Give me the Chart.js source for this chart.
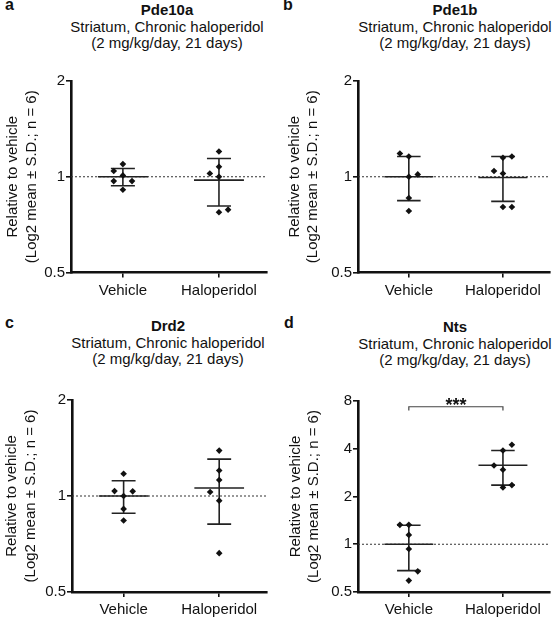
<!DOCTYPE html>
<html>
<head>
<meta charset="utf-8">
<script src="https://cdn.jsdelivr.net/npm/chart.js@4.4.1/dist/chart.umd.min.js"></script>
<style>
  body { margin: 0; background: #fff; font-family: "Liberation Sans", Arial, sans-serif; color: #111; }
  #page { position: relative; width: 554px; height: 619px; overflow: hidden; }
  .panel { position: absolute; }
  .panel canvas { position: absolute; left: 0; top: 0; }
  .letter { position: absolute; font-weight: bold; font-size: 16px; line-height: 16px; }
  .title { position: absolute; width: 260px; text-align: center; font-size: 15px; line-height: 16.5px; white-space: nowrap; }
  .title b { display: block; }
</style>
</head>
<body>
<div id="page"></div>
<script>
const groups = ["Vehicle", "Haloperidol"];
const subtitle = ["Striatum, Chronic haloperidol", "(2 mg/kg/day, 21 days)"];
const yTitle = ["Relative to vehicle", "(Log2 mean \u00b1 S.D.; n = 6)"];

// Pde10a
const pde10aVehicle = [1.096, 1.042, 1.01, 0.969, 0.969, 0.91];
const pde10aVehicleCol = [0, -1, 0, -1, 1, 0];
const pde10aHaloperidol = [1.2, 1.075, 1.024, 1.0, 0.788, 0.773];
const pde10aHaloperidolCol = [0, 0, -1, 0, 1, 0];
const pde10aMean = [1.0, 0.976];
const pde10aSdLow = [0.937, 0.809];
const pde10aSdHigh = [1.062, 1.141];

// Pde1b
const pde1bVehicle = [1.183, 1.158, 1.017, 1.0, 0.857, 0.78];
const pde1bVehicleCol = [-1, 0, 1, 0, 0, 0];
const pde1bHaloperidol = [1.158, 1.147, 1.042, 1.024, 0.803, 0.803];
const pde1bHaloperidolCol = [1, 0, -1, 0, 0, 1];
const pde1bMean = [1.0, 0.995];
const pde1bSdLow = [0.841, 0.837];
const pde1bSdHigh = [1.158, 1.158];

// Drd2
const drd2Vehicle = [1.174, 1.036, 1.034, 1.0, 0.911, 0.838];
const drd2VehicleCol = [0, -1, 1, 0, 0, 0];
const drd2Haloperidol = [1.388, 1.202, 1.122, 1.029, 0.967, 0.662];
const drd2HaloperidolCol = [0, 0, 0, -1, 0, 0];
const drd2Mean = [1.0, 1.059];
const drd2SdLow = [0.883, 0.816];
const drd2SdHigh = [1.116, 1.305];

// Nts
const ntsVehicle = [1.325, 1.325, 1.145, 0.934, 0.675, 0.59];
const ntsVehicleCol = [-1, 0, 0, 0, 1, 0];
const ntsHaloperidol = [4.24, 3.9, 3.14, 2.95, 2.36, 2.28];
const ntsHaloperidolCol = [1, 0, -1, 0, 1, 0];
const ntsMean = [1.0, 3.15];
const ntsSdLow = [0.682, 2.36];
const ntsSdHigh = [1.318, 3.9];
const ntsBracket = [6.96, 7.36]; // foot, top
const ntsSig = "***";

const smallTicks = [0.5, 1, 2];
const bigTicks = [0.5, 1, 2, 4, 8];

const xMin = 0.46, xMax = 2.5;
const jitterStep = 0.095;
const meanHalf = 0.26, capHalf = 0.125;

const panels = [
  { letter: "a", gene: "Pde10a", values: [pde10aVehicle, pde10aHaloperidol], cols: [pde10aVehicleCol, pde10aHaloperidolCol],
    mean: pde10aMean, sdLow: pde10aSdLow, sdHigh: pde10aSdHigh, yTicks: smallTicks,
    box: { left: 0, top: 0, w: 277, h: 300, axisW: 71, plotTop: 81, plotBottom: 272.5, plotRight: 267, titleX: 167, titleTop: 2, letterX: 5, letterTop: -3, labelPad: 3.6 } },
  { letter: "b", gene: "Pde1b", values: [pde1bVehicle, pde1bHaloperidol], cols: [pde1bVehicleCol, pde1bHaloperidolCol],
    mean: pde1bMean, sdLow: pde1bSdLow, sdHigh: pde1bSdHigh, yTicks: smallTicks,
    box: { left: 277, top: 0, w: 277, h: 300, axisW: 81, plotTop: 81, plotBottom: 272.5, plotRight: 274, titleX: 178, titleTop: 2, letterX: 6, letterTop: -3, labelPad: 8 } },
  { letter: "c", gene: "Drd2", values: [drd2Vehicle, drd2Haloperidol], cols: [drd2VehicleCol, drd2HaloperidolCol],
    mean: drd2Mean, sdLow: drd2SdLow, sdHigh: drd2SdHigh, yTicks: smallTicks,
    box: { left: 0, top: 300, w: 277, h: 319, axisW: 72, plotTop: 100, plotBottom: 292, plotRight: 267, titleX: 168, titleTop: 18, letterX: 5, letterTop: 15, labelPad: 2.5 } },
  { letter: "d", gene: "Nts", values: [ntsVehicle, ntsHaloperidol], cols: [ntsVehicleCol, ntsHaloperidolCol],
    mean: ntsMean, sdLow: ntsSdLow, sdHigh: ntsSdHigh, yTicks: bigTicks,
    bracket: ntsBracket, sig: ntsSig,
    box: { left: 277, top: 300, w: 277, h: 319, axisW: 81, plotTop: 101, plotBottom: 292, plotRight: 274, titleX: 178, titleTop: 19, letterX: 7, letterTop: 15, labelPad: 9 } }
];

const sigPlugin = {
  id: "sig",
  afterDatasetsDraw(chart, args, opts) {
    if (!opts || !opts.text) return;
    const { ctx, scales: { x, y } } = chart;
    ctx.save();
    ctx.font = 'bold 18px "Liberation Sans", Arial, sans-serif';
    ctx.fillStyle = "#111";
    ctx.textAlign = "center";
    ctx.textBaseline = "alphabetic";
    ctx.fillText(opts.text, x.getPixelForValue(opts.x), y.getPixelForValue(opts.y) + 4);
    ctx.restore();
  }
};
Chart.register(sigPlugin);

Chart.defaults.font.family = '"Liberation Sans", Arial, sans-serif';
Chart.defaults.font.size = 15;
Chart.defaults.color = "#111";

const page = document.getElementById("page");

panels.forEach(p => {
  const b = p.box;
  const div = document.createElement("div");
  div.className = "panel";
  div.style.cssText = `left:${b.left}px;top:${b.top}px;width:${b.w}px;height:${b.h}px`;
  div.innerHTML =
    `<div class="letter" style="left:${b.letterX}px;top:${b.letterTop}px">${p.letter}</div>` +
    `<div class="title" style="left:${b.titleX - 130}px;top:${b.titleTop}px"><b>${p.gene}</b>${subtitle[0]}<br>${subtitle[1]}</div>`;
  const canvas = document.createElement("canvas");
  canvas.width = b.w;
  canvas.height = b.h;
  div.appendChild(canvas);
  page.appendChild(div);

  // dots with column jitter
  const dots = [];
  p.values.forEach((vals, g) => {
    vals.forEach((v, i) => dots.push({ x: g + 1 + p.cols[g][i] * jitterStep, y: v }));
  });

  // mean and S.D. bars, segments split by gaps
  const bars = [];
  p.mean.forEach((m, g) => {
    const cx = g + 1;
    bars.push({ x: cx - meanHalf, y: m }, { x: cx + meanHalf, y: m }, { x: cx, y: null });
    bars.push({ x: cx - capHalf, y: p.sdHigh[g] }, { x: cx + capHalf, y: p.sdHigh[g] }, { x: cx, y: null });
    bars.push({ x: cx - capHalf, y: p.sdLow[g] }, { x: cx + capHalf, y: p.sdLow[g] }, { x: cx, y: null });
    bars.push({ x: cx, y: p.sdLow[g] }, { x: cx, y: p.sdHigh[g] }, { x: cx, y: null });
  });

  const datasets = [
    { data: dots, pointStyle: "rectRot", pointRadius: 3.3, pointBackgroundColor: "#111", pointBorderWidth: 0, showLine: false, order: 0 },
    { data: bars, showLine: true, borderColor: "#222", borderWidth: 1.6, pointRadius: 0, spanGaps: false, order: 1 },
    { data: [{ x: xMin, y: 1 }, { x: xMax, y: 1 }], showLine: true, borderColor: "#333", borderWidth: 1, borderDash: [2, 2], pointRadius: 0, order: 2 }
  ];
  if (p.bracket) {
    datasets.push({
      data: [{ x: 1, y: p.bracket[0] }, { x: 1, y: p.bracket[1] }, { x: 2, y: p.bracket[1] }, { x: 2, y: p.bracket[0] }],
      showLine: true, borderColor: "#444", borderWidth: 1.2, pointRadius: 0, order: 1
    });
  }

  const axisGrid = { drawOnChartArea: false, drawTicks: true, tickLength: 5, color: "#111", lineWidth: 1.6 };
  const axisBorder = { display: true, color: "#111", width: 2.6 };

  new Chart(canvas, {
    type: "scatter",
    data: { datasets },
    options: {
      responsive: false,
      animation: false,
      events: [],
      layout: { padding: { top: b.plotTop, right: b.w - b.plotRight, left: 0, bottom: 0 } },
      plugins: {
        legend: { display: false },
        tooltip: { enabled: false },
        sig: p.sig ? { text: p.sig, x: 1.5, y: p.bracket[1] } : {}
      },
      scales: {
        x: {
          type: "linear",
          min: xMin,
          max: xMax,
          afterFit: s => { s.height = b.h - b.plotBottom; },
          afterBuildTicks: s => { s.ticks = groups.map((g, i) => ({ value: i + 1 })); },
          ticks: { callback: v => groups[v - 1] || "", maxRotation: 0, autoSkip: false, padding: 4 },
          grid: axisGrid,
          border: axisBorder
        },
        y: {
          type: "logarithmic",
          min: p.yTicks[0],
          max: p.yTicks[p.yTicks.length - 1],
          afterFit: s => { s.width = b.axisW; },
          afterBuildTicks: s => { s.ticks = p.yTicks.map(v => ({ value: v })); },
          ticks: { callback: v => String(v), padding: 1, autoSkip: false },
          grid: axisGrid,
          border: axisBorder,
          title: { display: true, text: yTitle, font: { size: 15, lineHeight: 1.25 }, padding: { top: b.labelPad, bottom: 0 } }
        }
      }
    }
  });
});
</script>
</body>
</html>
